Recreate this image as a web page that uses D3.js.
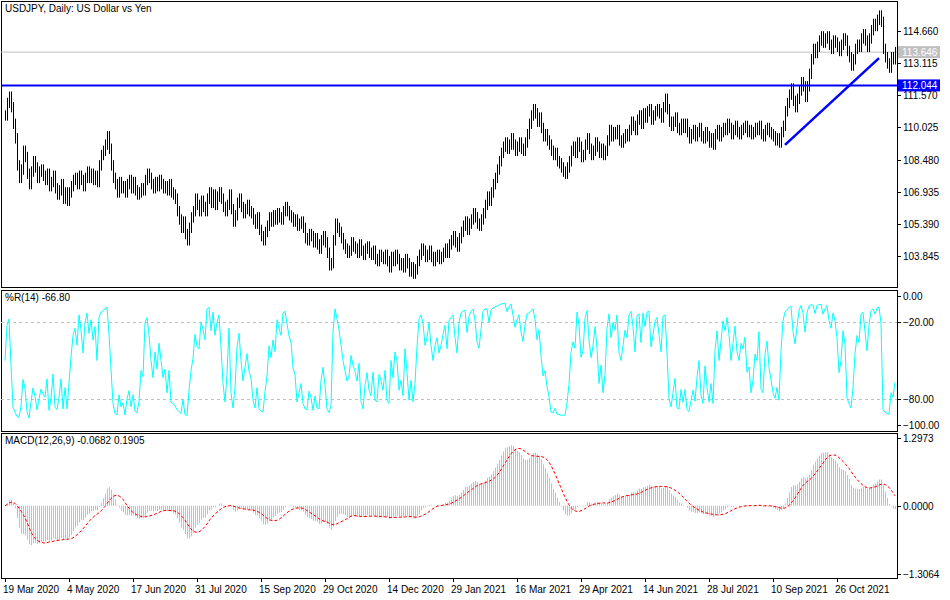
<!DOCTYPE html>
<html>
<head>
<meta charset="UTF-8">
<style>
  body { margin: 0; background: #fff; }
  text { font: 10px "Liberation Sans", Arial, sans-serif; fill: #000; }
</style>
</head>
<body>
<svg width="950" height="600" id="chart"></svg>
<script src="https://d3js.org/d3.v7.min.js"></script>
<script>
// daily closes
const closes = [
  110.6,111.2,111.5,111.0,110.2,109.5,108.2,107.6,108.0,108.9,
  108.6,107.8,107.3,107.9,108.4,108.1,107.6,107.9,108.0,107.7,
  107.5,107.8,107.2,107.4,107.7,107.1,106.8,107.0,107.3,106.6,
  106.9,106.5,106.9,107.2,107.5,107.6,107.3,107.7,107.5,107.2,
  107.6,107.9,107.6,107.8,107.5,107.7,107.4,108.2,108.7,108.9,
  109.2,109.6,109.0,108.2,107.6,107.3,106.9,107.4,107.1,107.2,
  106.9,107.3,107.5,107.1,107.4,107.0,106.8,106.9,107.1,107.0,
  107.5,107.8,107.6,107.3,107.1,107.4,107.2,107.5,107.3,107.1,
  107.2,107.0,107.3,106.9,106.8,106.6,106.0,105.6,105.2,105.5,
  104.9,104.6,105.2,105.7,106.0,106.6,106.3,106.0,106.5,106.2,
  106.0,106.6,106.9,106.4,106.8,106.3,106.7,106.9,106.6,106.2,
  106.0,106.3,106.8,106.1,105.5,105.8,106.4,106.6,106.2,105.9,
  106.1,106.3,106.0,105.9,105.6,105.4,105.7,105.1,104.8,104.6,
  105.0,105.3,105.7,105.5,105.8,105.6,105.9,105.7,105.6,106.0,
  106.2,106.0,105.8,105.7,105.5,105.6,105.3,105.4,105.5,105.2,
  104.7,104.6,104.9,104.8,104.5,104.7,104.4,104.2,104.6,104.8,
  104.5,104.0,103.4,103.5,104.6,105.4,105.2,105.0,104.7,104.4,
  104.2,104.0,104.1,104.5,104.3,104.2,104.0,104.4,104.1,103.9,
  104.2,104.3,104.0,103.9,104.1,103.7,103.6,103.9,103.8,103.7,
  103.9,103.6,103.3,103.8,103.6,103.9,103.7,103.4,103.5,103.3,
  103.7,103.5,103.1,103.3,103.0,103.2,103.6,103.9,104.2,104.1,
  103.8,103.9,104.1,103.8,103.6,103.8,103.9,103.7,103.8,104.0,
  104.2,104.0,104.4,104.6,104.8,104.5,104.3,104.7,105.0,105.3,
  105.5,105.1,105.4,105.6,105.9,105.7,105.4,105.3,105.6,105.9,
  106.3,106.7,106.5,106.9,107.3,107.6,108.0,108.4,108.8,109.1,
  109.3,109.0,109.2,109.5,109.2,108.9,109.1,109.3,109.0,108.9,
  109.3,109.7,110.2,110.6,110.9,110.7,110.3,110.5,110.0,109.6,
  109.7,109.4,109.2,108.9,108.7,108.8,108.4,108.3,108.1,107.9,
  107.8,108.1,108.4,108.9,109.1,108.8,109.3,109.1,108.6,108.7,
  109.2,109.5,109.0,108.7,108.9,109.3,109.1,108.8,109.0,108.7,
  108.9,109.4,109.9,109.6,109.8,109.7,109.9,109.4,109.3,109.5,
  109.7,109.6,109.9,110.3,110.1,109.9,110.4,110.6,110.2,110.7,
  110.5,110.8,110.9,110.4,110.6,110.8,110.9,110.7,110.5,111.0,
  111.4,110.9,110.3,110.1,110.3,110.5,110.0,109.9,110.2,110.0,
  110.2,109.8,109.5,109.7,109.9,109.6,109.8,110.0,109.6,109.5,
  109.8,109.6,109.3,109.5,109.2,109.7,109.9,109.6,109.8,110.0,
  109.9,110.2,110.0,109.7,109.9,110.1,109.8,109.7,109.9,110.0,
  110.1,109.8,109.9,109.7,109.8,110.0,109.9,110.1,109.7,109.6,
  109.9,110.0,109.8,109.7,109.6,109.4,109.5,109.3,109.8,110.1,
  110.8,111.2,111.6,111.9,111.3,111.0,111.4,111.8,112.2,112.0,
  111.5,112.0,112.6,113.3,113.8,113.6,113.9,114.2,114.4,114.1,
  114.3,114.4,114.0,113.8,114.2,114.1,113.9,113.7,114.0,114.3,
  114.2,113.7,113.4,113.0,113.3,113.8,114.0,113.9,114.3,114.5,
  114.2,113.9,114.3,114.7,115.0,114.9,115.2,115.4,115.1,113.8,
  113.4,113.1,112.9,113.4,113.3,113.646
];
const dateLabels = ["19 Mar 2020","4 May 2020","17 Jun 2020","31 Jul 2020","15 Sep 2020",
  "29 Oct 2020","14 Dec 2020","29 Jan 2021","16 Mar 2021","29 Apr 2021","14 Jun 2021",
  "28 Jul 2021","10 Sep 2021","26 Oct 2021"];
const priceTicks = [114.660,113.115,111.570,110.025,108.480,106.935,105.390,103.845];
const wprTicks = [0, -20, -80, -100];
const macdTicks = [1.2973, 0, -1.3064];
const lastPrice = 113.646;
const levelPrice = 112.044;
const trend = [{i: 390, p: 109.19}, {i: 437, p: 113.36}];

// bars: open = previous close
const bars = closes.map((c, i) => {
  const o = i ? closes[i - 1] : c;
  return {i, o, c, h: Math.max(o, c) + 0.25, l: Math.min(o, c) - 0.25};
});

// Williams %R (14)
const wpr = bars.map((b, i) => {
  const w = bars.slice(Math.max(0, i - 13), i + 1);
  const hh = d3.max(w, d => d.h), ll = d3.min(w, d => d.l);
  return hh === ll ? -50 : -100 * (hh - b.c) / (hh - ll);
});

// MACD (12,26,9), signal as SMA like MT
function ema(arr, n) {
  const k = 2 / (n + 1); let e = arr[0];
  return arr.map(v => (e = v * k + e * (1 - k)));
}
const e12 = ema(closes, 12), e26 = ema(closes, 26);
const macd = closes.map((_, i) => e12[i] - e26[i]);
const signal = macd.map((_, i) => d3.mean(macd.slice(Math.max(0, i - 8), i + 1)));

const svg = d3.select('#chart');
const L = 1, R = 897;
const x = i => 5 + i * 2;
const y = d3.scaleLinear().domain([103.845, 114.660]).range([256, 31]);
const yW = d3.scaleLinear().domain([-100, 0]).range([425, 296]);
const yM = d3.scaleLinear().domain([-1.3064, 1.2973]).range([574, 438]);

// frames
[[1, 287], [290, 431], [433, 578]].forEach(([t, b]) =>
  svg.append('rect').attr('x', L + 0.5).attr('y', t + 0.5).attr('width', R - L)
    .attr('height', b - t).attr('fill', 'none').attr('stroke', '#000'));

// price panel
svg.append('line').attr('x1', L).attr('x2', R).attr('y1', y(lastPrice)).attr('y2', y(lastPrice))
  .attr('stroke', '#c0c0c0');
svg.append('g').selectAll('line').data(bars).join('line')
  .attr('x1', d => x(d.i) + 0.5).attr('x2', d => x(d.i) + 0.5)
  .attr('y1', d => y(d.h)).attr('y2', d => y(d.l)).attr('stroke', '#000');
svg.append('line').attr('x1', L).attr('x2', R).attr('y1', y(levelPrice)).attr('y2', y(levelPrice))
  .attr('stroke', '#0000ff').attr('stroke-width', 2);
svg.append('line').attr('x1', x(trend[0].i)).attr('y1', y(trend[0].p))
  .attr('x2', x(trend[1].i)).attr('y2', y(trend[1].p)).attr('stroke', '#0000ff').attr('stroke-width', 2.5);

function axis(scale, ticks, fmt, top, bottom) {
  const g = svg.append('g');
  ticks.forEach(t => {
    const yy = Math.min(Math.max(scale(t), top + 4), bottom - 4);
    g.append('line').attr('x1', R).attr('x2', R + 4).attr('y1', Math.round(scale(t)) + 0.5)
      .attr('y2', Math.round(scale(t)) + 0.5).attr('stroke', '#000');
    g.append('text').attr('x', R + 6).attr('y', yy + 4).text(fmt(t));
  });
}
axis(y, priceTicks, d3.format('.3f'), 1, 287);
[[lastPrice, '#c0c0c0'], [levelPrice, '#0000ff']].forEach(([p, c]) => {
  svg.append('rect').attr('x', R + 1).attr('y', y(p) - 6).attr('width', 42).attr('height', 12).attr('fill', c);
  svg.append('text').attr('x', R + 5).attr('y', y(p) + 4).style('fill', '#fff').text(p.toFixed(3));
});
svg.append('text').attr('x', 5).attr('y', 12).text('USDJPY, Daily:  US Dollar vs Yen');

// %R panel
[-20, -80].forEach(v => svg.append('line').attr('x1', L).attr('x2', R)
  .attr('y1', Math.round(yW(v)) + 0.5).attr('y2', Math.round(yW(v)) + 0.5)
  .attr('stroke', '#c0c0c0').attr('stroke-dasharray', '3,3'));
svg.append('path').datum(wpr).attr('fill', 'none').attr('stroke', '#00ffff')
  .attr('d', d3.line().x((d, i) => x(i)).y(d => yW(d)));
axis(yW, wprTicks, d3.format('.2f'), 290, 431);
svg.append('text').attr('x', 5).attr('y', 301)
  .text('%R(14) ' + wpr[wpr.length - 1].toFixed(2));

// MACD panel
svg.append('g').selectAll('line').data(macd).join('line')
  .attr('x1', (d, i) => x(i) + 0.5).attr('x2', (d, i) => x(i) + 0.5)
  .attr('y1', yM(0)).attr('y2', d => yM(d)).attr('stroke', '#c0c0c0');
svg.append('path').datum(signal).attr('fill', 'none').attr('stroke', '#ff0000')
  .attr('stroke-dasharray', '3,2')
  .attr('d', d3.line().x((d, i) => x(i)).y(d => yM(d)));
axis(yM, macdTicks, d3.format('.4f'), 433, 578);
svg.append('text').attr('x', 5).attr('y', 444)
  .text('MACD(12,26,9) ' + macd[macd.length - 1].toFixed(4) + ' ' + signal[signal.length - 1].toFixed(4));

// date axis
dateLabels.forEach((t, k) => {
  const xx = x(k * 32);
  svg.append('line').attr('x1', xx + 0.5).attr('x2', xx + 0.5).attr('y1', 578).attr('y2', 582).attr('stroke', '#000');
  svg.append('text').attr('x', xx - 2).attr('y', 593).text(t);
});
</script>
</body>
</html>
